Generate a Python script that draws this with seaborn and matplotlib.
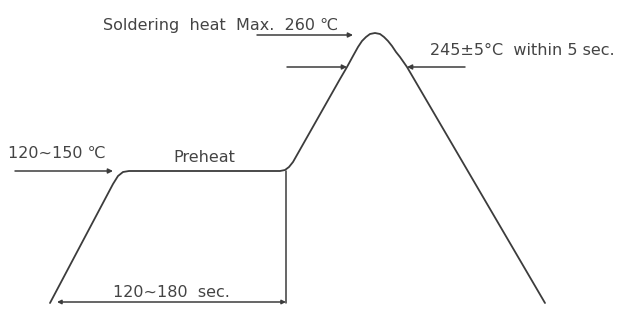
import pandas as pd
import matplotlib
matplotlib.use("Agg")
import matplotlib.pyplot as plt
import seaborn as sns

# Reflow profile (schematic time units vs. schematic temperature height)
profile_time = [50, 113, 118, 123, 129, 280, 285, 289, 293, 340, 347, 353, 358, 362, 366, 370,
                375, 380, 384, 388, 392, 396, 400, 407, 545]
profile_temp = [6, 125, 133, 137, 138, 138, 139, 142, 147, 230, 242, 253, 262, 268, 272, 275,
                276, 275, 272, 268, 263, 257, 252, 242, 6]

# Key levels
preheat_level = 138
peak_level = 274
dwell_level = 242
baseline = 7
preheat_start = 57
preheat_end = 286
dwell_left = 347
dwell_right = 407
peak_time = 353

# Labels
label_preheat_temp = "120~150 ℃"
label_preheat = "Preheat"
label_preheat_time = "120~180  sec."
label_peak = "Soldering  heat  Max.  260 ℃"
label_dwell = "245±5°C  within 5 sec."

line_color = "#3c3c3c"
text_color = "#444444"
fs = 11.5

sns.set_style("white")
plt.rcParams["font.family"] = ["DejaVu Sans"]

fig = plt.figure(figsize=(6.22, 3.09), dpi=100)
ax = fig.add_axes([0, 0, 1, 1])

df = pd.DataFrame({"time": profile_time, "temp": profile_temp})
sns.lineplot(data=df, x="time", y="temp", sort=False, estimator=None,
             color=line_color, linewidth=1.3, ax=ax)

arrow = dict(arrowstyle="-|>", color=line_color, lw=1.1, mutation_scale=7, shrinkA=0, shrinkB=0)

# preheat temperature arrow
ax.annotate("", xy=(113, preheat_level), xytext=(15, preheat_level), arrowprops=arrow)
ax.text(8, 151, label_preheat_temp, fontsize=fs, color=text_color, ha="left", va="baseline")
ax.text(204, 147, label_preheat, fontsize=fs, color=text_color, ha="center", va="baseline")

# preheat duration
ax.plot([preheat_end, preheat_end], [preheat_level, baseline - 1], color=line_color, lw=1.1)
ax.annotate("", xy=(preheat_start, baseline), xytext=(preheat_end, baseline),
            arrowprops=dict(arrowstyle="<|-|>", color=line_color, lw=1.1, mutation_scale=6,
                            shrinkA=0, shrinkB=0))
ax.text(171, 12, label_preheat_time, fontsize=fs, color=text_color, ha="center", va="baseline")

# peak
ax.annotate("", xy=(peak_time, peak_level), xytext=(257, peak_level), arrowprops=arrow)
ax.text(338, 279, label_peak, fontsize=fs, color=text_color, ha="right", va="baseline")

# dwell above 245
ax.annotate("", xy=(dwell_left, dwell_level), xytext=(287, dwell_level), arrowprops=arrow)
ax.annotate("", xy=(dwell_right, dwell_level), xytext=(465, dwell_level), arrowprops=arrow)
ax.text(430, 254, label_dwell, fontsize=fs, color=text_color, ha="left", va="baseline")

ax.set_xlim(0, 622)
ax.set_ylim(0, 309)
ax.axis("off")

fig.savefig("out.png", dpi=100)
